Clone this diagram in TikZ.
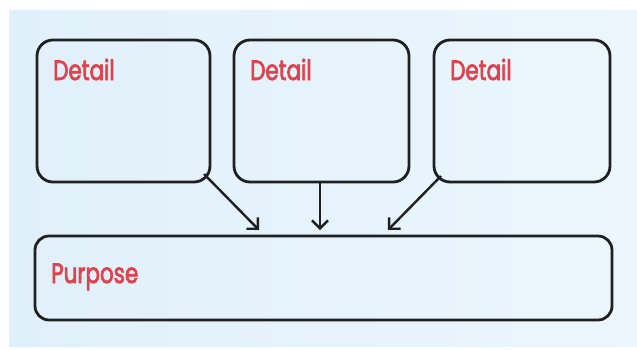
\documentclass[tikz,border=0pt]{standalone}
\usepackage{fontspec}
\setmainfont{Poppins}
\newfontfamily\labelfont[FakeBold=3]{Poppins}
\usetikzlibrary{arrows.meta}
\definecolor{cardblue}{HTML}{E0F0FA}
\definecolor{cardpale}{HTML}{ECF6FC}
\definecolor{inkline}{HTML}{1E2022}
\definecolor{labelred}{HTML}{E0434E}
\tikzset{
  card/.style={draw=inkline, line width=2.8pt, rounded corners=16pt, fill=none},
  lbl/.style={text=labelred, font=\labelfont\fontsize{21.5}{24}\selectfont, anchor=base west,
    inner sep=0pt, yscale=1.3},
  link/.style={draw=inkline, line width=2.4pt, -{Straight Barb[length=8pt,width=16pt,line width=2.4pt]}}
}
\begin{document}
\begin{tikzpicture}[x=1pt,y=-1pt]
  \useasboundingbox (0,0) rectangle (637,349);
  \fill[white] (0,0) rectangle (637,349);
  \shade[left color=cardblue, right color=cardpale] (9,10) rectangle (637,346);
  % three detail boxes
  \draw[card] (37,40) rectangle (210,182);
  \draw[card] (234,40) rectangle (409,182);
  \draw[card] (434,40) rectangle (610,182);
  \node[lbl] (d1) at (53,80) {Detail};
  \node[lbl] (d2) at (250,80) {Detail};
  \node[lbl] (d3) at (450,80) {Detail};
  % purpose box
  \draw[card, rounded corners=14pt] (35,236) rectangle (612,320);
  \node[lbl] (p) at (51,283) {Purpose};
  % connectors
  \coordinate (s1) at (204,174);
  \coordinate (e1) at (259,230);
  \coordinate (s2) at (320,182);
  \coordinate (e2) at (320,230);
  \coordinate (s3) at (441,176);
  \coordinate (e3) at (388,230);
  \draw[link] (s1) -- (e1);
  \draw[link] (s2) -- (e2);
  \draw[link] (s3) -- (e3);
\end{tikzpicture}
\end{document}
